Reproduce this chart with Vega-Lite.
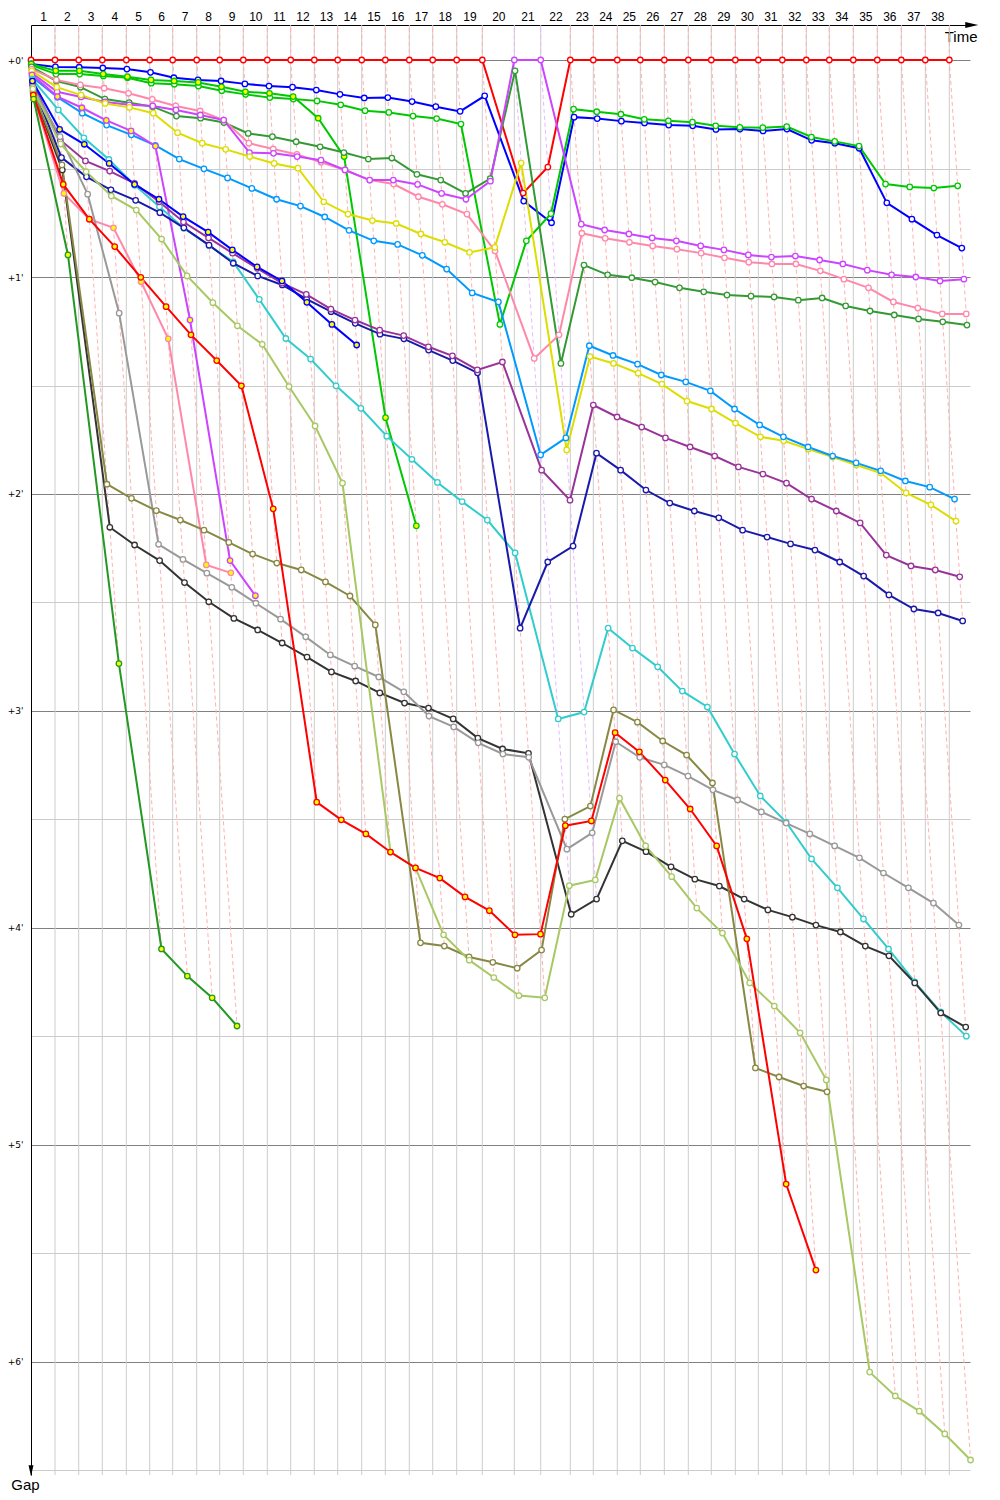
{
"$schema":"https://vega.github.io/schema/vega-lite/v6.json",
"width":939,"height":1450,
"autosize":{"type":"none"},
"padding":{"left":31,"top":25,"right":30,"bottom":25},
"background":"white",
"config":{"view":{"stroke":null}},
"datasets":{"race":[
{"driver":"red","lap":0,"time":0,"gap":0},{"driver":"red","lap":1,"time":99.6,"gap":0},{"driver":"red","lap":2,"time":198.1,"gap":0},{"driver":"red","lap":3,"time":296.0,"gap":0},{"driver":"red","lap":4,"time":395.7,"gap":0},{"driver":"red","lap":5,"time":492.8,"gap":0},{"driver":"red","lap":6,"time":588.3,"gap":0},{"driver":"red","lap":7,"time":688.0,"gap":0},{"driver":"red","lap":8,"time":783.5,"gap":0},{"driver":"red","lap":9,"time":881.5,"gap":0},{"driver":"red","lap":10,"time":981.1,"gap":0},{"driver":"red","lap":11,"time":1078.3,"gap":0},{"driver":"red","lap":12,"time":1176.3,"gap":0},{"driver":"red","lap":13,"time":1273.4,"gap":0},{"driver":"red","lap":14,"time":1373.1,"gap":0},{"driver":"red","lap":15,"time":1471.1,"gap":0},{"driver":"red","lap":16,"time":1570.7,"gap":0},{"driver":"red","lap":17,"time":1667.9,"gap":0},{"driver":"red","lap":18,"time":1767.5,"gap":0},{"driver":"red","lap":19,"time":1873.8,"gap":0},{"driver":"red","lap":20,"time":2043.5,"gap":36.8},{"driver":"red","lap":21,"time":2145.9,"gap":29.6},{"driver":"red","lap":22,"time":2239.2,"gap":0},{"driver":"red","lap":23,"time":2334.7,"gap":0},{"driver":"red","lap":24,"time":2434.3,"gap":0},{"driver":"red","lap":25,"time":2529.8,"gap":0},{"driver":"red","lap":26,"time":2629.5,"gap":0},{"driver":"red","lap":27,"time":2729.1,"gap":0},{"driver":"red","lap":28,"time":2824.6,"gap":0},{"driver":"red","lap":29,"time":2924.3,"gap":0},{"driver":"red","lap":30,"time":3019.8,"gap":0},{"driver":"red","lap":31,"time":3119.4,"gap":0},{"driver":"red","lap":32,"time":3219.0,"gap":0},{"driver":"red","lap":33,"time":3314.5,"gap":0},{"driver":"red","lap":34,"time":3414.2,"gap":0},{"driver":"red","lap":35,"time":3513.8,"gap":0},{"driver":"red","lap":36,"time":3613.5,"gap":0},{"driver":"red","lap":37,"time":3713.1,"gap":0},{"driver":"red","lap":38,"time":3812.8,"gap":0},
{"driver":"blue","lap":0,"time":1.1,"gap":1.1},{"driver":"blue","lap":1,"time":101.5,"gap":1.9},{"driver":"blue","lap":2,"time":200.1,"gap":2.0},{"driver":"blue","lap":3,"time":298.2,"gap":2.2},{"driver":"blue","lap":4,"time":398.2,"gap":2.5},{"driver":"blue","lap":5,"time":496.2,"gap":3.4},{"driver":"blue","lap":6,"time":593.2,"gap":4.9},{"driver":"blue","lap":7,"time":693.5,"gap":5.5},{"driver":"blue","lap":8,"time":789.3,"gap":5.8},{"driver":"blue","lap":9,"time":888.1,"gap":6.6},{"driver":"blue","lap":10,"time":988.3,"gap":7.2},{"driver":"blue","lap":11,"time":1085.8,"gap":7.5},{"driver":"blue","lap":12,"time":1184.6,"gap":8.3},{"driver":"blue","lap":13,"time":1282.9,"gap":9.5},{"driver":"blue","lap":14,"time":1383.6,"gap":10.5},{"driver":"blue","lap":15,"time":1481.5,"gap":10.4},{"driver":"blue","lap":16,"time":1582.2,"gap":11.5},{"driver":"blue","lap":17,"time":1680.8,"gap":12.9},{"driver":"blue","lap":18,"time":1781.7,"gap":14.2},{"driver":"blue","lap":19,"time":1883.7,"gap":9.9},{"driver":"blue","lap":20,"time":2045.7,"gap":39.0},{"driver":"blue","lap":21,"time":2161.3,"gap":45.0},{"driver":"blue","lap":22,"time":2255.0,"gap":15.8},{"driver":"blue","lap":23,"time":2350.9,"gap":16.2},{"driver":"blue","lap":24,"time":2451.2,"gap":16.9},{"driver":"blue","lap":25,"time":2547.2,"gap":17.4},{"driver":"blue","lap":26,"time":2647.5,"gap":18.0},{"driver":"blue","lap":27,"time":2747.3,"gap":18.2},{"driver":"blue","lap":28,"time":2843.8,"gap":19.2},{"driver":"blue","lap":29,"time":2943.4,"gap":19.1},{"driver":"blue","lap":30,"time":3039.4,"gap":19.6},{"driver":"blue","lap":31,"time":3138.5,"gap":19.1},{"driver":"blue","lap":32,"time":3241.2,"gap":22.2},{"driver":"blue","lap":33,"time":3337.5,"gap":23.0},{"driver":"blue","lap":34,"time":3438.6,"gap":24.4},{"driver":"blue","lap":35,"time":3553.3,"gap":39.5},{"driver":"blue","lap":36,"time":3657.5,"gap":44.0},{"driver":"blue","lap":37,"time":3761.5,"gap":48.4},{"driver":"blue","lap":38,"time":3864.8,"gap":52.0},
{"driver":"green","lap":0,"time":1.4,"gap":1.4},{"driver":"green","lap":1,"time":103.5,"gap":3.9},{"driver":"green","lap":2,"time":202.0,"gap":3.9},{"driver":"green","lap":3,"time":300.4,"gap":4.4},{"driver":"green","lap":4,"time":400.6,"gap":4.9},{"driver":"green","lap":5,"time":499.2,"gap":6.4},{"driver":"green","lap":6,"time":595.0,"gap":6.7},{"driver":"green","lap":7,"time":695.2,"gap":7.2},{"driver":"green","lap":8,"time":792.0,"gap":8.5},{"driver":"green","lap":9,"time":891.0,"gap":9.5},{"driver":"green","lap":10,"time":991.5,"gap":10.4},{"driver":"green","lap":11,"time":1089.1,"gap":10.8},{"driver":"green","lap":12,"time":1187.6,"gap":11.3},{"driver":"green","lap":13,"time":1285.8,"gap":12.4},{"driver":"green","lap":14,"time":1387.1,"gap":14.0},{"driver":"green","lap":15,"time":1485.6,"gap":14.5},{"driver":"green","lap":16,"time":1586.2,"gap":15.5},{"driver":"green","lap":17,"time":1684.1,"gap":16.2},{"driver":"green","lap":18,"time":1785.2,"gap":17.7},{"driver":"green","lap":19,"time":1946.9,"gap":73.1},{"driver":"green","lap":20,"time":2056.7,"gap":50.0},{"driver":"green","lap":21,"time":2158.8,"gap":42.5},{"driver":"green","lap":22,"time":2252.8,"gap":13.6},{"driver":"green","lap":23,"time":2349.0,"gap":14.3},{"driver":"green","lap":24,"time":2449.3,"gap":15.0},{"driver":"green","lap":25,"time":2546.2,"gap":16.4},{"driver":"green","lap":26,"time":2646.3,"gap":16.8},{"driver":"green","lap":27,"time":2746.3,"gap":17.2},{"driver":"green","lap":28,"time":2842.8,"gap":18.2},{"driver":"green","lap":29,"time":2942.9,"gap":18.6},{"driver":"green","lap":30,"time":3038.5,"gap":18.7},{"driver":"green","lap":31,"time":3137.8,"gap":18.4},{"driver":"green","lap":32,"time":3240.3,"gap":21.3},{"driver":"green","lap":33,"time":3337.0,"gap":22.5},{"driver":"green","lap":34,"time":3438.0,"gap":23.8},{"driver":"green","lap":35,"time":3548.1,"gap":34.3},{"driver":"green","lap":36,"time":3648.6,"gap":35.1},{"driver":"green","lap":37,"time":3748.5,"gap":35.4},{"driver":"green","lap":38,"time":3847.6,"gap":34.8},
{"driver":"green2","lap":0,"time":1.1,"gap":1.1},{"driver":"green2","lap":1,"time":102.6,"gap":3.0},{"driver":"green2","lap":2,"time":201.1,"gap":3.0},{"driver":"green2","lap":3,"time":299.9,"gap":3.9},{"driver":"green2","lap":4,"time":400.3,"gap":4.6},{"driver":"green2","lap":5,"time":498.3,"gap":5.5},{"driver":"green2","lap":6,"time":594.1,"gap":5.8},{"driver":"green2","lap":7,"time":694.2,"gap":6.2},{"driver":"green2","lap":8,"time":790.9,"gap":7.4},{"driver":"green2","lap":9,"time":890.3,"gap":8.8},{"driver":"green2","lap":10,"time":990.3,"gap":9.2},{"driver":"green2","lap":11,"time":1088.4,"gap":10.1},{"driver":"green2","lap":12,"time":1192.4,"gap":16.1},{"driver":"green2","lap":13,"time":1300.1,"gap":26.7},{"driver":"green2","lap":14,"time":1472.0,"gap":98.9},{"driver":"green2","lap":15,"time":1599.9,"gap":128.8},
{"driver":"dkgreen","lap":0,"time":1.9,"gap":1.9},{"driver":"dkgreen","lap":1,"time":105.4,"gap":5.8},{"driver":"dkgreen","lap":2,"time":205.6,"gap":7.5},{"driver":"dkgreen","lap":3,"time":306.8,"gap":10.8},{"driver":"dkgreen","lap":4,"time":407.5,"gap":11.8},{"driver":"dkgreen","lap":5,"time":505.7,"gap":12.9},{"driver":"dkgreen","lap":6,"time":603.8,"gap":15.5},{"driver":"dkgreen","lap":7,"time":704.1,"gap":16.1},{"driver":"dkgreen","lap":8,"time":800.8,"gap":17.3},{"driver":"dkgreen","lap":9,"time":901.8,"gap":20.3},{"driver":"dkgreen","lap":10,"time":1002.3,"gap":21.2},{"driver":"dkgreen","lap":11,"time":1100.9,"gap":22.6},{"driver":"dkgreen","lap":12,"time":1200.3,"gap":24.0},{"driver":"dkgreen","lap":13,"time":1299.0,"gap":25.6},{"driver":"dkgreen","lap":14,"time":1400.5,"gap":27.4},{"driver":"dkgreen","lap":15,"time":1498.2,"gap":27.1},{"driver":"dkgreen","lap":16,"time":1602.3,"gap":31.6},{"driver":"dkgreen","lap":17,"time":1701.1,"gap":33.2},{"driver":"dkgreen","lap":18,"time":1804.4,"gap":36.9},{"driver":"dkgreen","lap":19,"time":1906.6,"gap":32.8},{"driver":"dkgreen","lap":20,"time":2009.7,"gap":3.0},{"driver":"dkgreen","lap":21,"time":2200.2,"gap":83.9},{"driver":"dkgreen","lap":22,"time":2295.9,"gap":56.7},{"driver":"dkgreen","lap":23,"time":2394.1,"gap":59.4},{"driver":"dkgreen","lap":24,"time":2494.5,"gap":60.2},{"driver":"dkgreen","lap":25,"time":2591.2,"gap":61.4},{"driver":"dkgreen","lap":26,"time":2692.5,"gap":63.0},{"driver":"dkgreen","lap":27,"time":2793.2,"gap":64.1},{"driver":"dkgreen","lap":28,"time":2889.6,"gap":65.0},{"driver":"dkgreen","lap":29,"time":2989.6,"gap":65.3},{"driver":"dkgreen","lap":30,"time":3085.3,"gap":65.5},{"driver":"dkgreen","lap":31,"time":3185.8,"gap":66.4},{"driver":"dkgreen","lap":32,"time":3284.8,"gap":65.8},{"driver":"dkgreen","lap":33,"time":3382.5,"gap":68.0},{"driver":"dkgreen","lap":34,"time":3483.6,"gap":69.4},{"driver":"dkgreen","lap":35,"time":3584.3,"gap":70.5},{"driver":"dkgreen","lap":36,"time":3685.1,"gap":71.6},{"driver":"dkgreen","lap":37,"time":3785.5,"gap":72.4},{"driver":"dkgreen","lap":38,"time":3886.1,"gap":73.3},
{"driver":"pink","lap":0,"time":2.5,"gap":2.5},{"driver":"pink","lap":1,"time":105.1,"gap":5.5},{"driver":"pink","lap":2,"time":205.0,"gap":6.9},{"driver":"pink","lap":3,"time":303.8,"gap":7.8},{"driver":"pink","lap":4,"time":404.9,"gap":9.2},{"driver":"pink","lap":5,"time":503.7,"gap":10.9},{"driver":"pink","lap":6,"time":601.0,"gap":12.7},{"driver":"pink","lap":7,"time":702.1,"gap":14.1},{"driver":"pink","lap":8,"time":800.1,"gap":16.6},{"driver":"pink","lap":9,"time":904.5,"gap":23.0},{"driver":"pink","lap":10,"time":1005.7,"gap":24.6},{"driver":"pink","lap":11,"time":1104.4,"gap":26.1},{"driver":"pink","lap":12,"time":1204.6,"gap":28.3},{"driver":"pink","lap":13,"time":1303.8,"gap":30.4},{"driver":"pink","lap":14,"time":1406.3,"gap":33.2},{"driver":"pink","lap":15,"time":1505.4,"gap":34.3},{"driver":"pink","lap":16,"time":1608.5,"gap":37.8},{"driver":"pink","lap":17,"time":1707.8,"gap":39.9},{"driver":"pink","lap":18,"time":1810.1,"gap":42.6},{"driver":"pink","lap":19,"time":1926.6,"gap":52.8},{"driver":"pink","lap":20,"time":2089.2,"gap":82.5},{"driver":"pink","lap":21,"time":2192.3,"gap":76.0},{"driver":"pink","lap":22,"time":2287.1,"gap":47.9},{"driver":"pink","lap":23,"time":2384.0,"gap":49.3},{"driver":"pink","lap":24,"time":2484.7,"gap":50.4},{"driver":"pink","lap":25,"time":2581.2,"gap":51.4},{"driver":"pink","lap":26,"time":2681.8,"gap":52.3},{"driver":"pink","lap":27,"time":2782.5,"gap":53.4},{"driver":"pink","lap":28,"time":2879.3,"gap":54.7},{"driver":"pink","lap":29,"time":2980.2,"gap":55.9},{"driver":"pink","lap":30,"time":3076.2,"gap":56.4},{"driver":"pink","lap":31,"time":3175.8,"gap":56.4},{"driver":"pink","lap":32,"time":3277.3,"gap":58.3},{"driver":"pink","lap":33,"time":3375.1,"gap":60.6},{"driver":"pink","lap":34,"time":3477.2,"gap":63.0},{"driver":"pink","lap":35,"time":3580.7,"gap":66.9},{"driver":"pink","lap":36,"time":3682.1,"gap":68.6},{"driver":"pink","lap":37,"time":3783.3,"gap":70.2},{"driver":"pink","lap":38,"time":3883.0,"gap":70.2},
{"driver":"violet","lap":0,"time":3.6,"gap":3.6},{"driver":"violet","lap":1,"time":108.4,"gap":8.8},{"driver":"violet","lap":2,"time":208.3,"gap":10.2},{"driver":"violet","lap":3,"time":307.6,"gap":11.6},{"driver":"violet","lap":4,"time":408.1,"gap":12.4},{"driver":"violet","lap":5,"time":505.5,"gap":12.7},{"driver":"violet","lap":6,"time":602.1,"gap":13.8},{"driver":"violet","lap":7,"time":703.2,"gap":15.2},{"driver":"violet","lap":8,"time":800.1,"gap":16.6},{"driver":"violet","lap":9,"time":907.1,"gap":25.6},{"driver":"violet","lap":10,"time":1006.9,"gap":25.8},{"driver":"violet","lap":11,"time":1105.0,"gap":26.7},{"driver":"violet","lap":12,"time":1204.0,"gap":27.7},{"driver":"violet","lap":13,"time":1303.8,"gap":30.4},{"driver":"violet","lap":14,"time":1406.3,"gap":33.2},{"driver":"violet","lap":15,"time":1504.3,"gap":33.2},{"driver":"violet","lap":16,"time":1605.1,"gap":34.4},{"driver":"violet","lap":17,"time":1704.8,"gap":36.9},{"driver":"violet","lap":18,"time":1806.0,"gap":38.5},{"driver":"violet","lap":19,"time":1907.3,"gap":33.5},{"driver":"violet","lap":20,"time":2006.7,"gap":0},{"driver":"violet","lap":21,"time":2116.3,"gap":0},{"driver":"violet","lap":22,"time":2284.6,"gap":45.4},{"driver":"violet","lap":23,"time":2381.7,"gap":47.0},{"driver":"violet","lap":24,"time":2482.4,"gap":48.1},{"driver":"violet","lap":25,"time":2579.0,"gap":49.2},{"driver":"violet","lap":26,"time":2679.5,"gap":50.0},{"driver":"violet","lap":27,"time":2780.5,"gap":51.4},{"driver":"violet","lap":28,"time":2877.1,"gap":52.5},{"driver":"violet","lap":29,"time":2978.2,"gap":53.9},{"driver":"violet","lap":30,"time":3074.3,"gap":54.5},{"driver":"violet","lap":31,"time":3173.6,"gap":54.2},{"driver":"violet","lap":32,"time":3274.3,"gap":55.3},{"driver":"violet","lap":33,"time":3370.9,"gap":56.4},{"driver":"violet","lap":34,"time":3472.3,"gap":58.1},{"driver":"violet","lap":35,"time":3573.2,"gap":59.4},{"driver":"violet","lap":36,"time":3673.5,"gap":60.0},{"driver":"violet","lap":37,"time":3774.2,"gap":61.1},{"driver":"violet","lap":38,"time":3873.4,"gap":60.6},
{"driver":"yellow","lap":0,"time":3.0,"gap":3.0},{"driver":"yellow","lap":1,"time":107.1,"gap":7.5},{"driver":"yellow","lap":2,"time":207.8,"gap":9.7},{"driver":"yellow","lap":3,"time":308.0,"gap":12.0},{"driver":"yellow","lap":4,"time":408.8,"gap":13.1},{"driver":"yellow","lap":5,"time":507.5,"gap":14.7},{"driver":"yellow","lap":6,"time":608.4,"gap":20.1},{"driver":"yellow","lap":7,"time":711.0,"gap":23.0},{"driver":"yellow","lap":8,"time":808.2,"gap":24.7},{"driver":"yellow","lap":9,"time":908.2,"gap":26.7},{"driver":"yellow","lap":10,"time":1009.7,"gap":28.6},{"driver":"yellow","lap":11,"time":1108.2,"gap":29.9},{"driver":"yellow","lap":12,"time":1215.5,"gap":39.2},{"driver":"yellow","lap":13,"time":1316.0,"gap":42.6},{"driver":"yellow","lap":14,"time":1417.5,"gap":44.4},{"driver":"yellow","lap":15,"time":1516.3,"gap":45.2},{"driver":"yellow","lap":16,"time":1618.8,"gap":48.1},{"driver":"yellow","lap":17,"time":1718.3,"gap":50.4},{"driver":"yellow","lap":18,"time":1820.7,"gap":53.2},{"driver":"yellow","lap":19,"time":1925.6,"gap":51.8},{"driver":"yellow","lap":20,"time":2035.2,"gap":28.5},{"driver":"yellow","lap":21,"time":2224.1,"gap":107.8},{"driver":"yellow","lap":22,"time":2321.2,"gap":82.0},{"driver":"yellow","lap":23,"time":2418.6,"gap":83.9},{"driver":"yellow","lap":24,"time":2520.9,"gap":86.6},{"driver":"yellow","lap":25,"time":2619.4,"gap":89.6},{"driver":"yellow","lap":26,"time":2723.8,"gap":94.3},{"driver":"yellow","lap":27,"time":2825.6,"gap":96.5},{"driver":"yellow","lap":28,"time":2925.0,"gap":100.4},{"driver":"yellow","lap":29,"time":3028.5,"gap":104.2},{"driver":"yellow","lap":30,"time":3125.1,"gap":105.3},{"driver":"yellow","lap":31,"time":3227.0,"gap":107.6},{"driver":"yellow","lap":32,"time":3328.8,"gap":109.8},{"driver":"yellow","lap":33,"time":3426.5,"gap":112.0},{"driver":"yellow","lap":34,"time":3528.4,"gap":114.2},{"driver":"yellow","lap":35,"time":3633.5,"gap":119.7},{"driver":"yellow","lap":36,"time":3736.5,"gap":123.0},{"driver":"yellow","lap":37,"time":3840.6,"gap":127.5},
{"driver":"ltblue","lap":0,"time":4.7,"gap":4.7},{"driver":"ltblue","lap":1,"time":109.9,"gap":10.3},{"driver":"ltblue","lap":2,"time":212.8,"gap":14.7},{"driver":"ltblue","lap":3,"time":314.0,"gap":18.0},{"driver":"ltblue","lap":4,"time":416.4,"gap":20.7},{"driver":"ltblue","lap":5,"time":516.4,"gap":23.6},{"driver":"ltblue","lap":6,"time":615.7,"gap":27.4},{"driver":"ltblue","lap":7,"time":718.1,"gap":30.1},{"driver":"ltblue","lap":8,"time":816.1,"gap":32.6},{"driver":"ltblue","lap":9,"time":917.0,"gap":35.5},{"driver":"ltblue","lap":10,"time":1019.6,"gap":38.5},{"driver":"ltblue","lap":11,"time":1118.7,"gap":40.4},{"driver":"ltblue","lap":12,"time":1219.7,"gap":43.4},{"driver":"ltblue","lap":13,"time":1320.5,"gap":47.1},{"driver":"ltblue","lap":14,"time":1423.1,"gap":50.0},{"driver":"ltblue","lap":15,"time":1522.1,"gap":51.0},{"driver":"ltblue","lap":16,"time":1624.7,"gap":54.0},{"driver":"ltblue","lap":17,"time":1725.7,"gap":57.8},{"driver":"ltblue","lap":18,"time":1831.9,"gap":64.4},{"driver":"ltblue","lap":19,"time":1940.7,"gap":66.9},{"driver":"ltblue","lap":20,"time":2115.9,"gap":109.2},{"driver":"ltblue","lap":21,"time":2220.8,"gap":104.5},{"driver":"ltblue","lap":22,"time":2318.2,"gap":79.0},{"driver":"ltblue","lap":23,"time":2416.4,"gap":81.7},{"driver":"ltblue","lap":24,"time":2518.4,"gap":84.1},{"driver":"ltblue","lap":25,"time":2616.9,"gap":87.1},{"driver":"ltblue","lap":26,"time":2718.5,"gap":89.0},{"driver":"ltblue","lap":27,"time":2820.6,"gap":91.5},{"driver":"ltblue","lap":28,"time":2921.1,"gap":96.5},{"driver":"ltblue","lap":29,"time":3025.2,"gap":100.9},{"driver":"ltblue","lap":30,"time":3124.0,"gap":104.2},{"driver":"ltblue","lap":31,"time":3226.4,"gap":107.0},{"driver":"ltblue","lap":32,"time":3328.5,"gap":109.5},{"driver":"ltblue","lap":33,"time":3425.9,"gap":111.4},{"driver":"ltblue","lap":34,"time":3527.8,"gap":113.6},{"driver":"ltblue","lap":35,"time":3630.2,"gap":116.4},{"driver":"ltblue","lap":36,"time":3731.6,"gap":118.1},{"driver":"ltblue","lap":37,"time":3834.5,"gap":121.4},
{"driver":"violet2","lap":0,"time":4.1,"gap":4.1},{"driver":"violet2","lap":1,"time":109.7,"gap":10.1},{"driver":"violet2","lap":2,"time":211.3,"gap":13.2},{"driver":"violet2","lap":3,"time":312.7,"gap":16.7},{"driver":"violet2","lap":4,"time":415.3,"gap":19.6},{"driver":"violet2","lap":5,"time":516.6,"gap":23.8},{"driver":"violet2","lap":6,"time":660.2,"gap":71.9},{"driver":"violet2","lap":7,"time":826.4,"gap":138.4},{"driver":"violet2","lap":8,"time":931.6,"gap":148.1},
{"driver":"pink2","lap":0,"time":10.2,"gap":10.2},{"driver":"pink2","lap":1,"time":136.5,"gap":36.9},{"driver":"pink2","lap":2,"time":242.1,"gap":44.0},{"driver":"pink2","lap":3,"time":342.4,"gap":46.4},{"driver":"pink2","lap":4,"time":457.0,"gap":61.3},{"driver":"pink2","lap":5,"time":569.9,"gap":77.1},{"driver":"pink2","lap":6,"time":727.9,"gap":139.6},{"driver":"pink2","lap":7,"time":829.8,"gap":141.8},
{"driver":"cyan","lap":0,"time":5.3,"gap":5.3},{"driver":"cyan","lap":1,"time":113.4,"gap":13.8},{"driver":"cyan","lap":2,"time":219.6,"gap":21.5},{"driver":"cyan","lap":3,"time":323.5,"gap":27.5},{"driver":"cyan","lap":4,"time":430.3,"gap":34.6},{"driver":"cyan","lap":5,"time":533.4,"gap":40.6},{"driver":"cyan","lap":6,"time":634.8,"gap":46.5},{"driver":"cyan","lap":7,"time":739.3,"gap":51.3},{"driver":"cyan","lap":8,"time":839.3,"gap":55.8},{"driver":"cyan","lap":9,"time":947.7,"gap":66.2},{"driver":"cyan","lap":10,"time":1058.1,"gap":77.0},{"driver":"cyan","lap":11,"time":1161.0,"gap":82.7},{"driver":"cyan","lap":12,"time":1266.4,"gap":90.1},{"driver":"cyan","lap":13,"time":1369.7,"gap":96.3},{"driver":"cyan","lap":14,"time":1477.1,"gap":104.0},{"driver":"cyan","lap":15,"time":1581.5,"gap":110.4},{"driver":"cyan","lap":16,"time":1687.5,"gap":116.8},{"driver":"cyan","lap":17,"time":1790.0,"gap":122.1},{"driver":"cyan","lap":18,"time":1894.7,"gap":127.2},{"driver":"cyan","lap":19,"time":2010.1,"gap":136.3},{"driver":"cyan","lap":20,"time":2188.9,"gap":182.2},{"driver":"cyan","lap":21,"time":2296.6,"gap":180.3},{"driver":"cyan","lap":22,"time":2396.3,"gap":157.1},{"driver":"cyan","lap":23,"time":2497.3,"gap":162.6},{"driver":"cyan","lap":24,"time":2602.1,"gap":167.8},{"driver":"cyan","lap":25,"time":2704.3,"gap":174.5},{"driver":"cyan","lap":26,"time":2808.4,"gap":178.9},{"driver":"cyan","lap":27,"time":2921.0,"gap":191.9},{"driver":"cyan","lap":28,"time":3028.1,"gap":203.5},{"driver":"cyan","lap":29,"time":3135.0,"gap":210.7},{"driver":"cyan","lap":30,"time":3240.7,"gap":220.9},{"driver":"cyan","lap":31,"time":3348.3,"gap":228.9},{"driver":"cyan","lap":32,"time":3456.5,"gap":237.5},{"driver":"cyan","lap":33,"time":3560.3,"gap":245.8},{"driver":"cyan","lap":34,"time":3669.1,"gap":254.9},{"driver":"cyan","lap":35,"time":3777.0,"gap":263.2},{"driver":"cyan","lap":36,"time":3883.4,"gap":269.9},
{"driver":"navy","lap":0,"time":6.9,"gap":6.9},{"driver":"navy","lap":1,"time":126.6,"gap":27.0},{"driver":"navy","lap":2,"time":230.4,"gap":32.3},{"driver":"navy","lap":3,"time":331.9,"gap":35.9},{"driver":"navy","lap":4,"time":434.5,"gap":38.8},{"driver":"navy","lap":5,"time":535.0,"gap":42.2},{"driver":"navy","lap":6,"time":634.7,"gap":46.4},{"driver":"navy","lap":7,"time":739.2,"gap":51.2},{"driver":"navy","lap":8,"time":839.7,"gap":56.2},{"driver":"navy","lap":9,"time":941.2,"gap":59.7},{"driver":"navy","lap":10,"time":1043.3,"gap":62.2},{"driver":"navy","lap":11,"time":1144.4,"gap":66.1},{"driver":"navy","lap":12,"time":1245.9,"gap":69.6},{"driver":"navy","lap":13,"time":1346.2,"gap":72.8},{"driver":"navy","lap":14,"time":1448.9,"gap":75.8},{"driver":"navy","lap":15,"time":1548.2,"gap":77.1},{"driver":"navy","lap":16,"time":1650.9,"gap":80.2},{"driver":"navy","lap":17,"time":1751.0,"gap":83.1},{"driver":"navy","lap":18,"time":1854.0,"gap":86.5},{"driver":"navy","lap":19,"time":2030.9,"gap":157.1},{"driver":"navy","lap":20,"time":2145.5,"gap":138.8},{"driver":"navy","lap":21,"time":2250.7,"gap":134.4},{"driver":"navy","lap":22,"time":2347.9,"gap":108.7},{"driver":"navy","lap":23,"time":2448.1,"gap":113.4},{"driver":"navy","lap":24,"time":2553.2,"gap":118.9},{"driver":"navy","lap":25,"time":2652.3,"gap":122.5},{"driver":"navy","lap":26,"time":2754.2,"gap":124.7},{"driver":"navy","lap":27,"time":2855.7,"gap":126.6},{"driver":"navy","lap":28,"time":2954.6,"gap":130.0},{"driver":"navy","lap":29,"time":3056.2,"gap":131.9},{"driver":"navy","lap":30,"time":3153.6,"gap":133.8},{"driver":"navy","lap":31,"time":3254.9,"gap":135.5},{"driver":"navy","lap":32,"time":3357.8,"gap":138.8},{"driver":"navy","lap":33,"time":3457.2,"gap":142.7},{"driver":"navy","lap":34,"time":3562.1,"gap":147.9},{"driver":"navy","lap":35,"time":3665.6,"gap":151.8},{"driver":"navy","lap":36,"time":3766.4,"gap":152.9},{"driver":"navy","lap":37,"time":3868.2,"gap":155.1},
{"driver":"purple","lap":0,"time":6.4,"gap":6.4},{"driver":"purple","lap":1,"time":121.7,"gap":22.1},{"driver":"purple","lap":2,"time":226.0,"gap":27.9},{"driver":"purple","lap":3,"time":326.7,"gap":30.7},{"driver":"purple","lap":4,"time":429.8,"gap":34.1},{"driver":"purple","lap":5,"time":532.0,"gap":39.2},{"driver":"purple","lap":6,"time":633.1,"gap":44.8},{"driver":"purple","lap":7,"time":737.2,"gap":49.2},{"driver":"purple","lap":8,"time":836.9,"gap":53.4},{"driver":"purple","lap":9,"time":939.1,"gap":57.6},{"driver":"purple","lap":10,"time":1042.8,"gap":61.7},{"driver":"purple","lap":11,"time":1143.1,"gap":64.8},{"driver":"purple","lap":12,"time":1245.2,"gap":68.9},{"driver":"purple","lap":13,"time":1345.3,"gap":71.9},{"driver":"purple","lap":14,"time":1447.8,"gap":74.7},{"driver":"purple","lap":15,"time":1547.3,"gap":76.2},{"driver":"purple","lap":16,"time":1650.0,"gap":79.3},{"driver":"purple","lap":17,"time":1749.7,"gap":81.8},{"driver":"purple","lap":18,"time":1853.2,"gap":85.7},{"driver":"purple","lap":19,"time":1957.3,"gap":83.5},{"driver":"purple","lap":20,"time":2120.1,"gap":113.4},{"driver":"purple","lap":21,"time":2238.0,"gap":121.7},{"driver":"purple","lap":22,"time":2334.6,"gap":95.4},{"driver":"purple","lap":23,"time":2433.4,"gap":98.7},{"driver":"purple","lap":24,"time":2535.8,"gap":101.5},{"driver":"purple","lap":25,"time":2634.3,"gap":104.5},{"driver":"purple","lap":26,"time":2736.5,"gap":107.0},{"driver":"purple","lap":27,"time":2838.6,"gap":109.5},{"driver":"purple","lap":28,"time":2937.1,"gap":112.5},{"driver":"purple","lap":29,"time":3038.8,"gap":114.5},{"driver":"purple","lap":30,"time":3136.8,"gap":117.0},{"driver":"purple","lap":31,"time":3240.8,"gap":121.4},{"driver":"purple","lap":32,"time":3343.7,"gap":124.7},{"driver":"purple","lap":33,"time":3442.5,"gap":128.0},{"driver":"purple","lap":34,"time":3551.1,"gap":136.9},{"driver":"purple","lap":35,"time":3653.7,"gap":139.9},{"driver":"purple","lap":36,"time":3754.5,"gap":141.0},{"driver":"purple","lap":37,"time":3856.0,"gap":142.9},
{"driver":"blue2","lap":0,"time":5.8,"gap":5.8},{"driver":"blue2","lap":1,"time":118.8,"gap":19.2},{"driver":"blue2","lap":2,"time":221.4,"gap":23.3},{"driver":"blue2","lap":3,"time":324.6,"gap":28.6},{"driver":"blue2","lap":4,"time":430.1,"gap":34.4},{"driver":"blue2","lap":5,"time":531.3,"gap":38.5},{"driver":"blue2","lap":6,"time":631.6,"gap":43.3},{"driver":"blue2","lap":7,"time":735.6,"gap":47.6},{"driver":"blue2","lap":8,"time":836.0,"gap":52.5},{"driver":"blue2","lap":9,"time":938.7,"gap":57.2},{"driver":"blue2","lap":10,"time":1042.2,"gap":61.1},{"driver":"blue2","lap":11,"time":1145.3,"gap":67.0},{"driver":"blue2","lap":12,"time":1249.4,"gap":73.1},{"driver":"blue2","lap":13,"time":1352.2,"gap":78.8},
{"driver":"black","lap":0,"time":9.1,"gap":9.1},{"driver":"black","lap":1,"time":130.0,"gap":30.4},{"driver":"black","lap":2,"time":327.3,"gap":129.2},{"driver":"black","lap":3,"time":430.1,"gap":134.1},{"driver":"black","lap":4,"time":534.1,"gap":138.4},{"driver":"black","lap":5,"time":637.3,"gap":144.5},{"driver":"black","lap":6,"time":738.1,"gap":149.8},{"driver":"black","lap":7,"time":842.4,"gap":154.4},{"driver":"black","lap":8,"time":941.1,"gap":157.6},{"driver":"black","lap":9,"time":1042.7,"gap":161.2},{"driver":"black","lap":10,"time":1146.2,"gap":165.1},{"driver":"black","lap":11,"time":1247.5,"gap":169.2},{"driver":"black","lap":12,"time":1348.0,"gap":171.7},{"driver":"black","lap":13,"time":1448.4,"gap":175.0},{"driver":"black","lap":14,"time":1550.9,"gap":177.8},{"driver":"black","lap":15,"time":1650.3,"gap":179.2},{"driver":"black","lap":16,"time":1752.9,"gap":182.2},{"driver":"black","lap":17,"time":1855.4,"gap":187.5},{"driver":"black","lap":18,"time":1958.0,"gap":190.5},{"driver":"black","lap":19,"time":2065.5,"gap":191.7},{"driver":"black","lap":20,"time":2242.9,"gap":236.2},{"driver":"black","lap":21,"time":2348.3,"gap":232.0},{"driver":"black","lap":22,"time":2455.1,"gap":215.9},{"driver":"black","lap":23,"time":2553.6,"gap":218.9},{"driver":"black","lap":24,"time":2657.4,"gap":223.1},{"driver":"black","lap":25,"time":2756.3,"gap":226.5},{"driver":"black","lap":26,"time":2857.9,"gap":228.4},{"driver":"black","lap":27,"time":2961.1,"gap":232.0},{"driver":"black","lap":28,"time":3059.6,"gap":235.0},{"driver":"black","lap":29,"time":3161.3,"gap":237.0},{"driver":"black","lap":30,"time":3259.0,"gap":239.2},{"driver":"black","lap":31,"time":3360.5,"gap":241.1},{"driver":"black","lap":32,"time":3464.0,"gap":245.0},{"driver":"black","lap":33,"time":3562.2,"gap":247.7},{"driver":"black","lap":34,"time":3669.4,"gap":255.2},{"driver":"black","lap":35,"time":3777.3,"gap":263.5},{"driver":"black","lap":36,"time":3880.9,"gap":267.4},
{"driver":"gray","lap":0,"time":7.5,"gap":7.5},{"driver":"gray","lap":1,"time":120.8,"gap":21.2},{"driver":"gray","lap":2,"time":235.2,"gap":37.1},{"driver":"gray","lap":3,"time":366.0,"gap":70.0},{"driver":"gray","lap":4,"time":529.6,"gap":133.9},{"driver":"gray","lap":5,"time":630.9,"gap":138.1},{"driver":"gray","lap":6,"time":730.2,"gap":141.9},{"driver":"gray","lap":7,"time":833.8,"gap":145.8},{"driver":"gray","lap":8,"time":933.7,"gap":150.2},{"driver":"gray","lap":9,"time":1036.1,"gap":154.6},{"driver":"gray","lap":10,"time":1140.6,"gap":159.5},{"driver":"gray","lap":11,"time":1242.8,"gap":164.5},{"driver":"gray","lap":12,"time":1343.9,"gap":167.6},{"driver":"gray","lap":13,"time":1444.0,"gap":170.6},{"driver":"gray","lap":14,"time":1547.8,"gap":174.7},{"driver":"gray","lap":15,"time":1652.5,"gap":181.4},{"driver":"gray","lap":16,"time":1755.1,"gap":184.4},{"driver":"gray","lap":17,"time":1856.7,"gap":188.8},{"driver":"gray","lap":18,"time":1959.4,"gap":191.9},{"driver":"gray","lap":19,"time":2066.6,"gap":192.8},{"driver":"gray","lap":20,"time":2224.9,"gap":218.2},{"driver":"gray","lap":21,"time":2330.0,"gap":213.7},{"driver":"gray","lap":22,"time":2427.7,"gap":188.5},{"driver":"gray","lap":23,"time":2527.5,"gap":192.8},{"driver":"gray","lap":24,"time":2629.2,"gap":194.9},{"driver":"gray","lap":25,"time":2727.8,"gap":198.0},{"driver":"gray","lap":26,"time":2831.3,"gap":201.8},{"driver":"gray","lap":27,"time":2933.7,"gap":204.6},{"driver":"gray","lap":28,"time":3032.5,"gap":207.9},{"driver":"gray","lap":29,"time":3135.3,"gap":211.0},{"driver":"gray","lap":30,"time":3233.8,"gap":214.0},{"driver":"gray","lap":31,"time":3336.7,"gap":217.3},{"driver":"gray","lap":32,"time":3439.6,"gap":220.6},{"driver":"gray","lap":33,"time":3539.3,"gap":224.8},{"driver":"gray","lap":34,"time":3643.1,"gap":228.9},{"driver":"gray","lap":35,"time":3746.9,"gap":233.1},{"driver":"gray","lap":36,"time":3852.7,"gap":239.2},
{"driver":"olive","lap":0,"time":8.6,"gap":8.6},{"driver":"olive","lap":1,"time":128.6,"gap":29.0},{"driver":"olive","lap":2,"time":315.4,"gap":117.3},{"driver":"olive","lap":3,"time":417.2,"gap":121.2},{"driver":"olive","lap":4,"time":520.3,"gap":124.6},{"driver":"olive","lap":5,"time":620.0,"gap":127.2},{"driver":"olive","lap":6,"time":718.3,"gap":130.0},{"driver":"olive","lap":7,"time":821.4,"gap":133.4},{"driver":"olive","lap":8,"time":920.1,"gap":136.6},{"driver":"olive","lap":9,"time":1020.6,"gap":139.1},{"driver":"olive","lap":10,"time":1122.1,"gap":141.0},{"driver":"olive","lap":11,"time":1222.6,"gap":144.3},{"driver":"olive","lap":12,"time":1324.5,"gap":148.2},{"driver":"olive","lap":13,"time":1429.6,"gap":156.2},{"driver":"olive","lap":14,"time":1617.2,"gap":244.1},{"driver":"olive","lap":15,"time":1716.1,"gap":245.0},{"driver":"olive","lap":16,"time":1818.7,"gap":248.0},{"driver":"olive","lap":17,"time":1917.4,"gap":249.5},{"driver":"olive","lap":18,"time":2018.6,"gap":251.1},{"driver":"olive","lap":19,"time":2119.9,"gap":246.1},{"driver":"olive","lap":20,"time":2216.6,"gap":209.9},{"driver":"olive","lap":21,"time":2322.6,"gap":206.3},{"driver":"olive","lap":22,"time":2418.9,"gap":179.7},{"driver":"olive","lap":23,"time":2517.8,"gap":183.1},{"driver":"olive","lap":24,"time":2622.6,"gap":188.3},{"driver":"olive","lap":25,"time":2722.0,"gap":192.2},{"driver":"olive","lap":26,"time":2829.4,"gap":199.9},{"driver":"olive","lap":27,"time":3007.8,"gap":278.7},{"driver":"olive","lap":28,"time":3105.8,"gap":281.2},{"driver":"olive","lap":29,"time":3208.0,"gap":283.7},{"driver":"olive","lap":30,"time":3305.1,"gap":285.3},
{"driver":"ltolive","lap":0,"time":8.0,"gap":8.0},{"driver":"ltolive","lap":1,"time":122.8,"gap":23.2},{"driver":"ltolive","lap":2,"time":229.0,"gap":30.9},{"driver":"ltolive","lap":3,"time":333.6,"gap":37.6},{"driver":"ltolive","lap":4,"time":437.2,"gap":41.5},{"driver":"ltolive","lap":5,"time":542.3,"gap":49.5},{"driver":"ltolive","lap":6,"time":648.0,"gap":59.7},{"driver":"ltolive","lap":7,"time":755.1,"gap":67.1},{"driver":"ltolive","lap":8,"time":857.0,"gap":73.5},{"driver":"ltolive","lap":9,"time":960.1,"gap":78.6},{"driver":"ltolive","lap":10,"time":1071.4,"gap":90.3},{"driver":"ltolive","lap":11,"time":1179.5,"gap":101.2},{"driver":"ltolive","lap":12,"time":1293.3,"gap":117.0},{"driver":"ltolive","lap":13,"time":1492.4,"gap":219.0},{"driver":"ltolive","lap":14,"time":1596.5,"gap":223.4},{"driver":"ltolive","lap":15,"time":1713.0,"gap":241.9},{"driver":"ltolive","lap":16,"time":1819.6,"gap":248.9},{"driver":"ltolive","lap":17,"time":1921.6,"gap":253.7},{"driver":"ltolive","lap":18,"time":2026.2,"gap":258.7},{"driver":"ltolive","lap":19,"time":2133.1,"gap":259.3},{"driver":"ltolive","lap":20,"time":2235.0,"gap":228.3},{"driver":"ltolive","lap":21,"time":2343.0,"gap":226.7},{"driver":"ltolive","lap":22,"time":2443.3,"gap":204.1},{"driver":"ltolive","lap":23,"time":2552.0,"gap":217.3},{"driver":"ltolive","lap":24,"time":2660.1,"gap":225.8},{"driver":"ltolive","lap":25,"time":2764.3,"gap":234.5},{"driver":"ltolive","lap":26,"time":2870.9,"gap":241.4},{"driver":"ltolive","lap":27,"time":2984.3,"gap":255.2},{"driver":"ltolive","lap":28,"time":3086.2,"gap":261.6},{"driver":"ltolive","lap":29,"time":3193.3,"gap":269.0},{"driver":"ltolive","lap":30,"time":3301.8,"gap":282.0},{"driver":"ltolive","lap":31,"time":3482.2,"gap":362.8},{"driver":"ltolive","lap":32,"time":3588.4,"gap":369.4},{"driver":"ltolive","lap":33,"time":3688.1,"gap":373.6},{"driver":"ltolive","lap":34,"time":3794.1,"gap":379.9},{"driver":"ltolive","lap":35,"time":3900.9,"gap":387.1},
{"driver":"red2","lap":0,"time":9.7,"gap":9.7},{"driver":"red2","lap":1,"time":134.0,"gap":34.4},{"driver":"red2","lap":2,"time":242.1,"gap":44.0},{"driver":"red2","lap":3,"time":347.6,"gap":51.6},{"driver":"red2","lap":4,"time":455.8,"gap":60.1},{"driver":"red2","lap":5,"time":561.0,"gap":68.2},{"driver":"red2","lap":6,"time":664.3,"gap":76.0},{"driver":"red2","lap":7,"time":771.1,"gap":83.1},{"driver":"red2","lap":8,"time":873.6,"gap":90.1},{"driver":"red2","lap":9,"time":1005.6,"gap":124.1},{"driver":"red2","lap":10,"time":1186.3,"gap":205.2},{"driver":"red2","lap":11,"time":1288.4,"gap":210.1},{"driver":"red2","lap":12,"time":1390.3,"gap":214.0},{"driver":"red2","lap":13,"time":1492.4,"gap":219.0},{"driver":"red2","lap":14,"time":1596.5,"gap":223.4},{"driver":"red2","lap":15,"time":1697.3,"gap":226.2},{"driver":"red2","lap":16,"time":1802.1,"gap":231.4},{"driver":"red2","lap":17,"time":1903.1,"gap":235.2},{"driver":"red2","lap":18,"time":2009.4,"gap":241.9},{"driver":"red2","lap":19,"time":2115.5,"gap":241.7},{"driver":"red2","lap":20,"time":2218.4,"gap":211.7},{"driver":"red2","lap":21,"time":2326.7,"gap":210.4},{"driver":"red2","lap":22,"time":2425.2,"gap":186.0},{"driver":"red2","lap":23,"time":2526.0,"gap":191.3},{"driver":"red2","lap":24,"time":2633.4,"gap":199.1},{"driver":"red2","lap":25,"time":2736.9,"gap":207.1},{"driver":"red2","lap":26,"time":2846.8,"gap":217.3},{"driver":"red2","lap":27,"time":2972.1,"gap":243.0},{"driver":"red2","lap":28,"time":3135.4,"gap":310.8},{"driver":"red2","lap":29,"time":3258.9,"gap":334.6},
{"driver":"dkgreen2","lap":0,"time":10.8,"gap":10.8},{"driver":"dkgreen2","lap":1,"time":153.5,"gap":53.9},{"driver":"dkgreen2","lap":2,"time":365.0,"gap":166.9},{"driver":"dkgreen2","lap":3,"time":541.8,"gap":245.8},{"driver":"dkgreen2","lap":4,"time":649.0,"gap":253.3},{"driver":"dkgreen2","lap":5,"time":752.1,"gap":259.3},{"driver":"dkgreen2","lap":6,"time":855.4,"gap":267.1}
]},
"layer":[
{"data":{"name":"race"},
 "transform":[{"filter":"datum.gap === 0 && datum.lap > 0"}],
 "mark":{"type":"rule","color":"#cccccc","strokeWidth":1},
 "encoding":{"x":{"field":"time","type":"quantitative","scale":{"domain":[0,3898.7],"nice":false,"zero":false},
   "axis":{"orient":"top","tickCount":100,"values":[49.8,148.9,247.1,345.9,444.3,540.6,638.2,735.8,832.5,931.3,1029.7,1127.3,1224.9,1323.3,1422.1,1520.9,1619.3,1717.7,1820.7,1940.3,2061.5,2177.8,2287.0,2384.5,2482.1,2579.7,2679.3,2776.9,2874.5,2972.1,3069.6,3169.2,3266.8,3364.4,3464.0,3563.7,3663.3,3763.0],
    "labelExpr":"indexof([49.8,148.9,247.1,345.9,444.3,540.6,638.2,735.8,832.5,931.3,1029.7,1127.3,1224.9,1323.3,1422.1,1520.9,1619.3,1717.7,1820.7,1940.3,2061.5,2177.8,2287.0,2384.5,2482.1,2579.7,2679.3,2776.9,2874.5,2972.1,3069.6,3169.2,3266.8,3364.4,3464.0,3563.7,3663.3,3763.0], datum.value) + 1",
    "ticks":false,"tickSize":0,"labelPadding":2,"labelFont":"Liberation Sans","labelFontSize":12,"labelColor":"black","domainColor":"black","domainWidth":1,"grid":false,"labelOverlap":false,"labelFlush":false,"labelBound":false,
    "title":"Time","titleFont":"Liberation Sans","titleFontSize":15,"titleFontWeight":"normal","titleColor":"black","titleAlign":"right","titleX":946,"titleY":16,"titleBaseline":"alphabetic"}}}},
{"data":{"name":"race"},
 "transform":[{"filter":"datum.gap === 0 && datum.lap > 0"}],
 "mark":{"type":"rule","strokeWidth":1,"strokeDash":[4,3]},
 "encoding":{"x":{"field":"time","type":"quantitative"},
  "y":{"field":"gap","type":"quantitative","scale":{"domain":[-9.68,391.25],"nice":false,"zero":false,"reverse":true}},
  "y2":{"datum":-9.68},
  "color":{"condition":{"test":"datum.lap === 20 || datum.lap === 21","value":"#e8b8ff"},"value":"#ffb0b0"}}},
{"data":{"name":"race"},
 "transform":[{"filter":"datum.lap > 0"}],
 "mark":{"type":"line","strokeWidth":1,"strokeDash":[4,3]},
 "encoding":{"x":{"field":"time","type":"quantitative"},
  "y":{"field":"gap","type":"quantitative"},
  "detail":{"field":"lap","type":"nominal"},
  "order":{"field":"gap","type":"quantitative"},
  "color":{"condition":{"test":"datum.lap === 20 || datum.lap === 21","value":"#e8b8ff"},"value":"#ffb0b0"}}},
{"data":{"name":"race"},
 "mark":{"type":"line","strokeWidth":2},
 "encoding":{"x":{"field":"time","type":"quantitative"},
  "y":{"field":"gap","type":"quantitative","scale":{"domain":[-9.68,391.25],"nice":false,"zero":false,"reverse":true},
   "axis":{"orient":"left","tickCount":100,"values":[0,30,60,90,120,150,180,210,240,270,300,330,360,390],
    "labelExpr":"datum.value % 60 === 0 ? '+' + (datum.value / 60) + \"'\" : ''",
    "grid":true,"gridColor":{"condition":{"test":"datum.value % 60 === 0","value":"#808080"},"value":"#cccccc"},"gridWidth":1,
    "ticks":false,"tickSize":0,"labelPadding":8,"labelFont":"DejaVu Sans","labelFontSize":9,"labelColor":"black","domainColor":"black","domainWidth":1,"labelFlush":false,"labelOverlap":false,
    "title":"Gap","titleAngle":0,"titleX":-6,"titleY":1464,"titleAlign":"center","titleBaseline":"alphabetic","titleFont":"Liberation Sans","titleFontSize":15,"titleFontWeight":"normal","titleColor":"black"}},
  "color":{"field":"driver","type":"nominal","legend":null,
   "scale":{"domain":["red","blue","green","green2","dkgreen","pink","violet","yellow","ltblue","violet2","pink2","cyan","navy","purple","blue2","black","gray","olive","ltolive","red2","dkgreen2"],
    "range":["#ff0000","#0000ff","#00c800","#00c800","#339933","#ff88aa","#cc44ff","#dddd00","#0099ff","#cc44ff","#ff88aa","#33cccc","#1a1aaa","#993399","#0000ff","#333333","#999999","#888844","#a8c864","#ff0000","#229922"]}},
  "order":{"field":"lap","type":"quantitative"}}},
{"data":{"name":"race"},
 "mark":{"type":"point","shape":"circle","size":30,"strokeWidth":1.3,"opacity":1,"filled":true},
 "encoding":{"x":{"field":"time","type":"quantitative"},
  "y":{"field":"gap","type":"quantitative"},
  "stroke":{"field":"driver","type":"nominal","legend":null,
   "scale":{"domain":["red","blue","green","green2","dkgreen","pink","violet","yellow","ltblue","violet2","pink2","cyan","navy","purple","blue2","black","gray","olive","ltolive","red2","dkgreen2"],
    "range":["#ff0000","#0000ff","#00c800","#00c800","#339933","#ff88aa","#cc44ff","#dddd00","#0099ff","#cc44ff","#ff88aa","#33cccc","#1a1aaa","#993399","#0000ff","#333333","#999999","#888844","#a8c864","#ff0000","#229922"]}},
  "fill":{"condition":{"test":"indexof(['green2','violet2','pink2','blue2','red2','dkgreen2'], datum.driver) >= 0","value":"#ffff00"},"value":"#ffffff"}}},
{"data":{"values":[{}]},
 "mark":{"type":"point","shape":"M -1 -0.45 L 1 0 L -1 0.45 Z","filled":true,"color":"black","size":170,"opacity":1},
 "encoding":{"x":{"datum":3906,"type":"quantitative"},"y":{"datum":-9.68,"type":"quantitative"}}},
{"data":{"values":[{}]},
 "mark":{"type":"point","shape":"M -0.45 -1 L 0.45 -1 L 0 1 Z","filled":true,"color":"black","size":121,"opacity":1},
 "encoding":{"x":{"datum":0,"type":"quantitative"},"y":{"datum":390.1,"type":"quantitative"}}}
]
}
